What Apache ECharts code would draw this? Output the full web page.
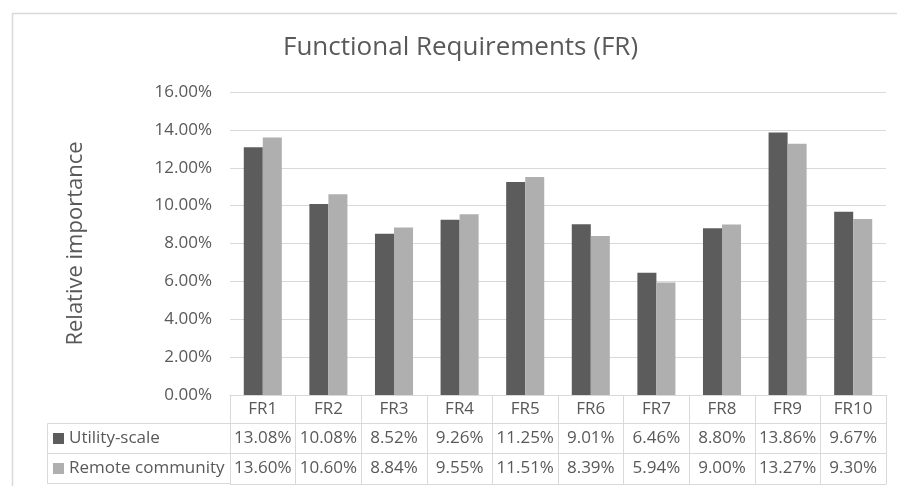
<!DOCTYPE html>
<html>
<head>
<meta charset="utf-8">
<style>
  html, body { margin: 0; padding: 0; background: #ffffff; }
  #chart { width: 897px; height: 486px; }
</style>
<script src="https://cdn.jsdelivr.net/npm/echarts@6/dist/echarts.min.js"></script>
</head>
<body>
<div id="chart"></div>
<script>
// Relative importance of each functional requirement (percent)
const categories = ['FR1', 'FR2', 'FR3', 'FR4', 'FR5', 'FR6', 'FR7', 'FR8', 'FR9', 'FR10'];
const utilityScale = [13.08, 10.08, 8.52, 9.26, 11.25, 9.01, 6.46, 8.80, 13.86, 9.67];
const remoteCommunity = [13.60, 10.60, 8.84, 9.55, 11.51, 8.39, 5.94, 9.00, 13.27, 9.30];
const seriesNames = ['Utility-scale', 'Remote community'];
const yTicks = { min: 0, max: 16, step: 2 };

const FONT = '"Open Sans", "Noto Sans", sans-serif';
const TEXT = '#595959';
const LINE = '#d9d9d9';
const FS = 17;
const pct = v => Number(v).toFixed(2) + '%';

const chart = echarts.init(document.getElementById('chart'), null, { renderer: 'canvas' });

// A data-table row under the plot: a category axis pushed down by `offset`
function tableRow(offset, labels, showLabels) {
  return {
    type: 'category',
    position: 'bottom',
    offset: offset,
    data: labels,
    axisLine: { show: true, lineStyle: { color: LINE, width: 1 } },
    axisTick: { show: false },
    axisLabel: {
      show: showLabels, interval: 0, margin: 7,
      color: TEXT, fontFamily: FONT, fontSize: FS
    },
    splitLine: { show: false }
  };
}

// One legend entry per table row, as the row header
function rowLegend(name, top) {
  return {
    data: [name],
    left: 53, top: top,
    icon: 'rect',
    itemWidth: 11, itemHeight: 11,
    selectedMode: false,
    padding: 0,
    textStyle: { color: TEXT, fontFamily: FONT, fontSize: FS }
  };
}

const option = {
  backgroundColor: '#ffffff',
  animation: false,
  textStyle: { fontFamily: FONT },
  title: {
    text: 'Functional Requirements (FR)',
    left: 278, top: 30,
    textStyle: { color: TEXT, fontFamily: FONT, fontSize: 26, fontWeight: 'normal' }
  },
  legend: [
    rowLegend(seriesNames[0], 430),
    rowLegend(seriesNames[1], 460)
  ],
  grid: { left: 230, right: 11, top: 92, bottom: 91, containLabel: false },
  xAxis: [
    {
      type: 'category',
      position: 'bottom',
      data: categories,
      axisLine: { show: true, lineStyle: { color: LINE, width: 1 } },
      axisTick: { show: true, length: 89, alignWithLabel: false, lineStyle: { color: LINE, width: 1 } },
      axisLabel: { interval: 0, margin: 6, color: TEXT, fontFamily: FONT, fontSize: FS },
      splitLine: { show: false }
    },
    tableRow(28, utilityScale.map(pct), true),
    tableRow(58, remoteCommunity.map(pct), true),
    tableRow(89, categories.map(() => ''), false)
  ],
  yAxis: {
    type: 'value',
    min: yTicks.min, max: yTicks.max, interval: yTicks.step,
    name: 'Relative importance',
    nameLocation: 'middle',
    nameRotate: 90,
    nameGap: 143,
    nameTextStyle: { color: TEXT, fontFamily: FONT, fontSize: 22 },
    axisLine: { show: false },
    axisTick: { show: false },
    axisLabel: { formatter: pct, margin: 18, color: TEXT, fontFamily: FONT, fontSize: FS },
    splitLine: { show: true, lineStyle: { color: LINE, width: 1 } }
  },
  series: [
    {
      name: seriesNames[0], type: 'bar', xAxisIndex: 0,
      data: utilityScale,
      barGap: '0%', barCategoryGap: '42%',
      itemStyle: { color: '#5c5c5c' }
    },
    {
      name: seriesNames[1], type: 'bar', xAxisIndex: 0,
      data: remoteCommunity,
      barGap: '0%', barCategoryGap: '42%',
      itemStyle: { color: '#afafaf' }
    }
  ],
  graphic: [
    // chart frame
    { type: 'rect', silent: true, shape: { x: 12.5, y: 13.5, width: 900, height: 500 },
      style: { fill: 'none', stroke: LINE, lineWidth: 1.5 } },
    // series-name column of the data table
    { type: 'polyline', silent: true,
      shape: { points: [[230, 423.5], [47.5, 423.5], [47.5, 483.5], [230, 483.5]] },
      style: { fill: 'none', stroke: LINE, lineWidth: 1 } },
    { type: 'line', silent: true,
      shape: { x1: 47.5, y1: 453.5, x2: 230, y2: 453.5 },
      style: { stroke: LINE, lineWidth: 1 } }
  ]
};

chart.setOption(option);
</script>
</body>
</html>
